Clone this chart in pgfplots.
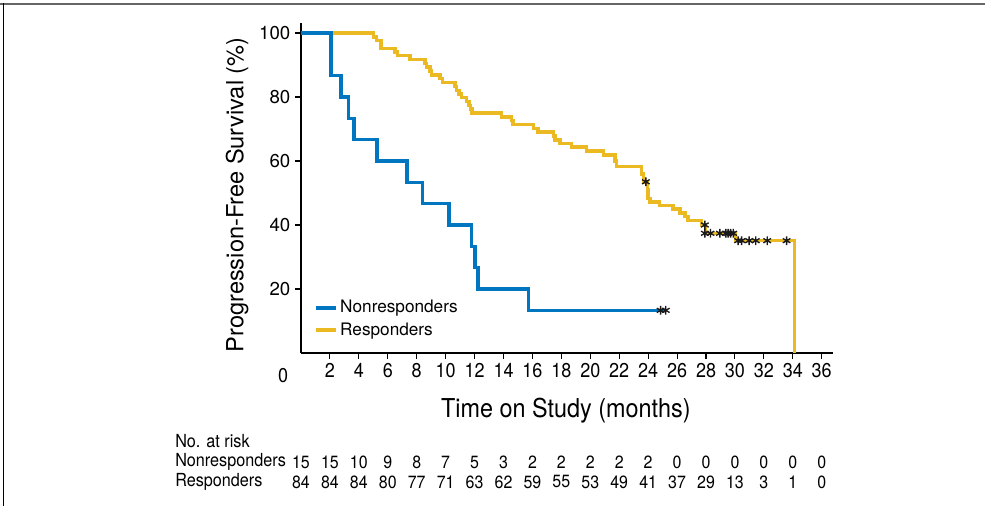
\documentclass[border=0pt]{standalone}
\usepackage{pgfplots}
\pgfplotsset{compat=1.18}
\usepackage{fontspec}
\setmainfont{TeX Gyre Heros}
\newfontfamily\cond[FakeStretch=0.9]{TeX Gyre Heros}
\definecolor{nrblue}{RGB}{0,118,192}
\definecolor{ryellow}{RGB}{235,186,35}

% number at risk, one row per group
\pgfplotstableread{
x y n
0 -34.06 15
2 -34.06 15
4 -34.06 10
6 -34.06 9
8 -34.06 8
10 -34.06 7
12 -34.06 5
14 -34.06 3
16 -34.06 2
18 -34.06 2
20 -34.06 2
22 -34.06 2
24 -34.06 2
26 -34.06 0
28 -34.06 0
30 -34.06 0
32 -34.06 0
34 -34.06 0
36 -34.06 0
}\risknr
\pgfplotstableread{
x y n
0 -40.3 84
2 -40.3 84
4 -40.3 84
6 -40.3 80
8 -40.3 77
10 -40.3 71
12 -40.3 63
14 -40.3 62
16 -40.3 59
18 -40.3 55
20 -40.3 53
22 -40.3 49
24 -40.3 41
26 -40.3 37
28 -40.3 29
30 -40.3 13
32 -40.3 3
34 -40.3 1
36 -40.3 0
}\riskr

\begin{document}
\begin{tikzpicture}
\path[use as bounding box] (-225.75pt,-114.75pt) rectangle (513pt,264.75pt);
\draw[line width=1.5pt, black!60] (-225.75pt,261.75pt) -- (513pt,261.75pt);
\draw[line width=0.75pt] (-223.3pt,262.5pt) -- (-223.3pt,-114.75pt);
\begin{axis}[
  at={(0pt,0pt)}, anchor=south west,
  width=398.8pt, height=247.7pt, scale only axis,
  xmin=0, xmax=36.76, ymin=0, ymax=103.2,
  axis x line*=bottom, axis y line*=left,
  axis line style={line width=0.9pt},
  xtick={2,4,...,36}, ytick={20,40,60,80,100},
  tick align=outside, major tick length=4.5pt,
  tick style={line width=0.8pt, black},
  /pgf/number format/assume math mode=true,
  xticklabel style={font=\cond\fontsize{15}{18}\selectfont},
  yticklabel style={font=\fontsize{14}{16}\selectfont},
  xlabel={Time on Study (months)},
  xlabel style={font=\cond\fontsize{19.5}{23}\selectfont,
    at={(axis description cs:0.498,-0.1757)}, anchor=center},
  ylabel={Progression-Free Survival (\%)},
  ylabel style={font=\fontsize{17.7}{21}\selectfont,
    at={(axis description cs:-0.1202,0.4787)}, anchor=center},
  clip=false,
  legend style={at={(axis cs:0.85,17.4)}, anchor=north west,
    draw=none, fill=none, inner sep=0pt, row sep=2pt,
    font=\fontsize{12.9}{15}\selectfont},
  legend cell align=left,
  legend image code/.code={\draw[#1, line width=3pt] (0pt,0pt) -- (15pt,0pt);},
]
\addlegendimage{nrblue}
\addlegendentry{Nonresponders}
\addlegendimage{ryellow}
\addlegendentry{Responders}

% responders
\addplot[forget plot, const plot, mark=none, ryellow, line width=2.6pt]
coordinates {
(0,100) (5.0,98.8) (5.23,97.6) (5.53,95.2) (6.5,94.0) (6.66,92.9)
(7.53,91.7) (8.57,90.5) (8.69,89.3) (8.91,88.1) (9.03,86.9) (9.6,85.7)
(9.77,84.5) (10.64,83.3) (10.76,82.1) (10.92,81.0) (11.1,79.8)
(11.45,78.6) (11.61,77.4) (11.73,76.2) (11.82,75.0) (13.87,73.8)
(14.56,72.6) (14.67,71.4) (16.06,70.2) (16.4,69.0) (17.44,67.8)
(17.55,66.6) (17.9,65.5) (18.7,64.3) (19.74,63.1) (20.9,61.9)
(21.7,60.0) (21.8,58.2) (23.54,55.9) (23.66,53.5) (23.96,50.9)
(24.0,48.3) (24.12,47.2) (24.8,46.1) (25.73,45.0) (26.19,43.8)
(26.54,42.6) (26.77,41.4) (27.7,40.0) (27.95,37.4) (30.04,35.1)
(34.1,0)
};

% nonresponders
\addplot[forget plot, const plot, mark=none, nrblue, line width=2.6pt]
coordinates {
(0,100) (2.09,86.67) (2.77,80) (3.27,73.33) (3.66,66.67) (5.25,60)
(7.33,53.33) (8.41,46.67) (10.23,40) (11.79,33.33) (12.02,26.67)
(12.25,20) (15.71,13.33) (25.2,13.33)
};

% censored
\addplot[forget plot, only marks, mark=asterisk, mark size=3.3pt,
  black!90, line width=1pt]
coordinates {
(24.86,13.33) (25.22,13.33)
(23.84,53.5) (27.92,40.0) (27.92,37.4) (28.31,37.4) (28.96,37.4)
(29.37,37.4) (29.53,37.4) (29.7,37.4) (29.88,37.4) (30.22,35.1)
(30.46,35.1) (30.98,35.1) (31.44,35.1) (32.23,35.1) (33.57,35.1)
};

% number at risk
\addplot[forget plot, draw=none, mark=none, nodes near coords,
  point meta=explicit symbolic,
  every node near coord/.append style={anchor=center,
    font=\cond\fontsize{13.3}{16}\selectfont}]
  table[x=x, y=y, meta=n] {\risknr};
\addplot[forget plot, draw=none, mark=none, nodes near coords,
  point meta=explicit symbolic,
  every node near coord/.append style={anchor=center,
    font=\cond\fontsize{13.3}{16}\selectfont}]
  table[x=x, y=y, meta=n] {\riskr};

\node[anchor=west, font=\cond\fontsize{13.5}{16}\selectfont, inner sep=0pt]
  at (axis cs:-8.71,-27.4) {No. at risk};
\node[anchor=west, font=\cond\fontsize{13.5}{16}\selectfont, inner sep=0pt]
  at (axis cs:-8.71,-34.06) {Nonresponders};
\node[anchor=west, font=\cond\fontsize{13.5}{16}\selectfont, inner sep=0pt]
  at (axis cs:-8.71,-40.3) {Responders};
\node[font=\cond\fontsize{15}{18}\selectfont] at (axis cs:-1.24,-6.9) {0};
\end{axis}
\end{tikzpicture}
\end{document}
